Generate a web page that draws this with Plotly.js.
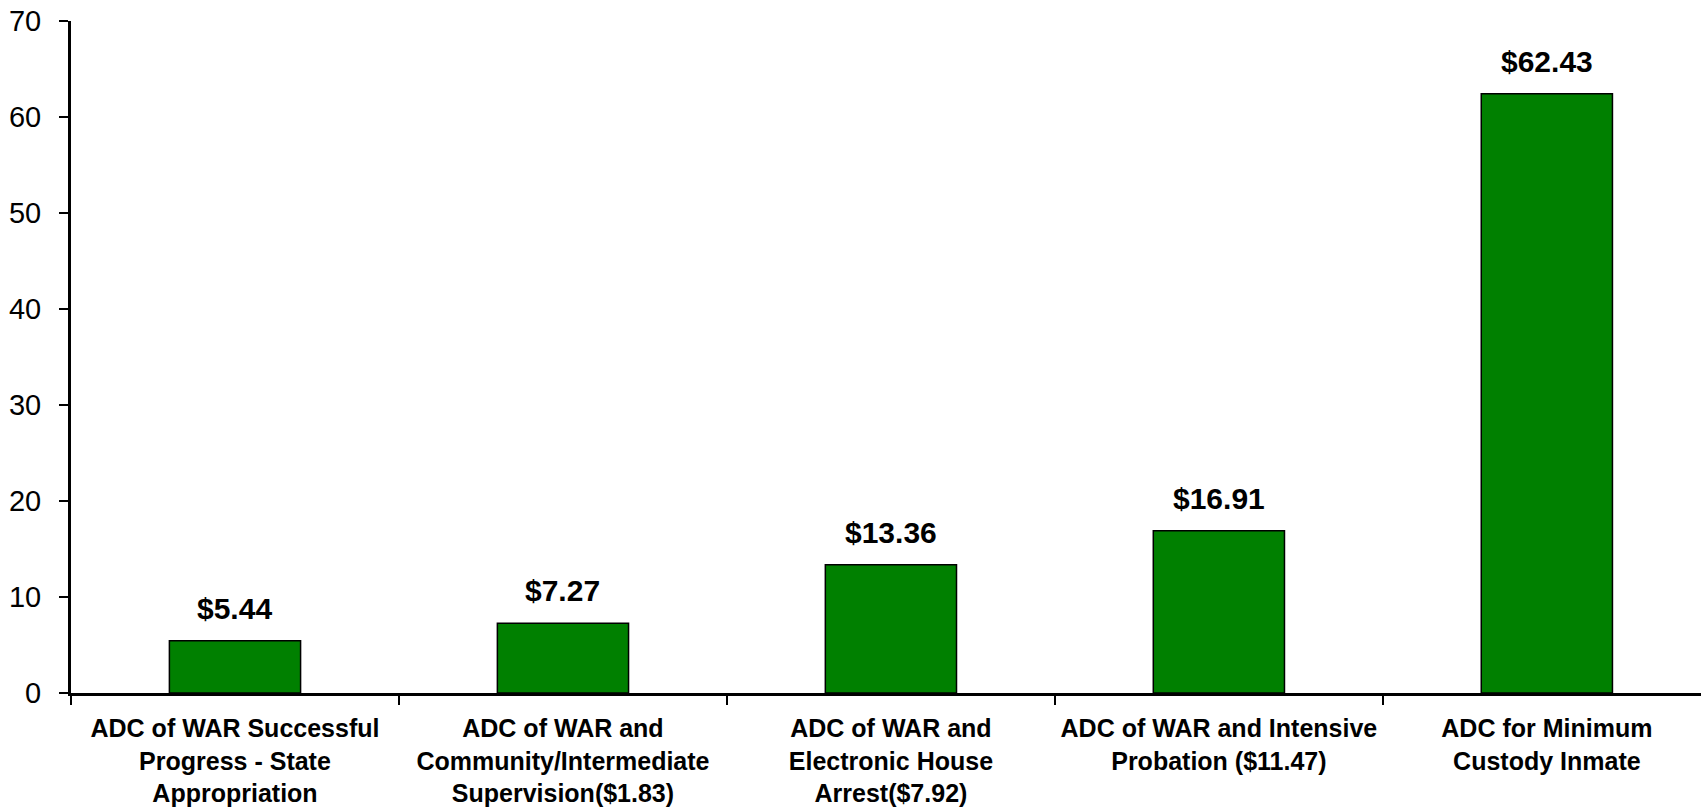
<!DOCTYPE html>
<html>
<head>
<meta charset="utf-8">
<script src="https://cdn.plot.ly/plotly-3.0.1.min.js"></script>
<style>html,body{margin:0;padding:0;background:#fff;}#chart{width:1701px;height:807px;}</style>
</head>
<body>
<div id="chart"></div>
<script>
const categories = [
  "ADC of WAR Successful<br>Progress - State<br>Appropriation",
  "ADC of WAR and<br>Community/Intermediate<br>Supervision($1.83)",
  "ADC of WAR and<br>Electronic House<br>Arrest($7.92)",
  "ADC of WAR and Intensive<br>Probation ($11.47)",
  "ADC for Minimum<br>Custody Inmate"
];
const values = [5.44, 7.27, 13.36, 16.91, 62.43];
const valueLabels = ["$5.44", "$7.27", "$13.36", "$16.91", "$62.43"];
const yTicks = [0, 10, 20, 30, 40, 50, 60, 70];

const FONT = '"Liberation Sans", Arial, sans-serif';

const trace = {
  type: 'bar',
  x: categories,
  y: values,
  marker: {color: '#008000', line: {color: '#000000', width: 1.5}},
  hoverinfo: 'skip'
};

const annotations = categories.map((c, i) => ({
  x: c, y: values[i], xref: 'x', yref: 'y',
  text: '<b>' + valueLabels[i] + '</b>',
  showarrow: false, yanchor: 'bottom', yshift: 14,
  font: {family: FONT, size: 30, color: '#000'}
}));

const layout = {
  width: 1701, height: 807,
  margin: {l: 71, r: 0, t: 21, b: 114, pad: 0},
  paper_bgcolor: '#ffffff', plot_bgcolor: '#ffffff',
  showlegend: false,
  bargap: 0.6,
  font: {family: FONT, color: '#000'},
  xaxis: {
    type: 'category',
    range: [-0.5, 4.47],
    showgrid: false, zeroline: false,
    showline: true, linecolor: '#000', linewidth: 3,
    ticks: 'outside', tickson: 'boundaries', ticklen: 9, tickwidth: 2.5, tickcolor: '#000',
    tickfont: {family: FONT, size: 25, color: '#000', weight: 'bold'},
    ticklabelstandoff: 11,
    tickangle: 0
  },
  yaxis: {
    range: [0, 70], tickvals: yTicks, ticktext: yTicks.map(String),
    showgrid: false, zeroline: false,
    showline: true, linecolor: '#000', linewidth: 3,
    ticks: 'outside', ticklen: 9, tickwidth: 2.5, tickcolor: '#000',
    tickfont: {family: FONT, size: 29, color: '#000'},
    ticklabelstandoff: 12
  },
  annotations: annotations
};

Plotly.newPlot('chart', [trace], layout, {displayModeBar: false, staticPlot: true});
</script>
</body>
</html>
